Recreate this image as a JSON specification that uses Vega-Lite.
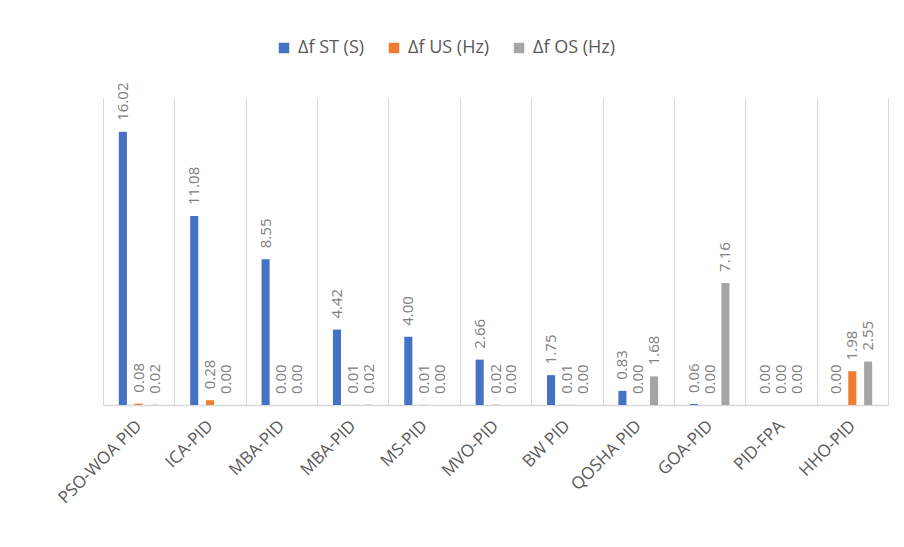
{
  "$schema": "https://vega.github.io/schema/vega-lite/v6.json",
  "width": 785,
  "height": 307,
  "autosize": {"type": "none"},
  "padding": {"left": 103, "top": 98, "right": 16, "bottom": 142},
  "background": "white",
  "config": {
    "view": {"stroke": null},
    "font": "Open Sans"
  },
  "data": {
    "values": [
      {"Method": "PSO-WOA PID", "Series": "Δf ST (S)", "value": 16.02},
      {"Method": "PSO-WOA PID", "Series": "Δf US (Hz)", "value": 0.08},
      {"Method": "PSO-WOA PID", "Series": "Δf OS (Hz)", "value": 0.02},
      {"Method": "ICA-PID", "Series": "Δf ST (S)", "value": 11.08},
      {"Method": "ICA-PID", "Series": "Δf US (Hz)", "value": 0.28},
      {"Method": "ICA-PID", "Series": "Δf OS (Hz)", "value": 0.0},
      {"Method": "MBA-PID", "Series": "Δf ST (S)", "value": 8.55},
      {"Method": "MBA-PID", "Series": "Δf US (Hz)", "value": 0.0},
      {"Method": "MBA-PID", "Series": "Δf OS (Hz)", "value": 0.0},
      {"Method": "MBA-PID#2", "Series": "Δf ST (S)", "value": 4.42},
      {"Method": "MBA-PID#2", "Series": "Δf US (Hz)", "value": 0.01},
      {"Method": "MBA-PID#2", "Series": "Δf OS (Hz)", "value": 0.02},
      {"Method": "MS-PID", "Series": "Δf ST (S)", "value": 4.0},
      {"Method": "MS-PID", "Series": "Δf US (Hz)", "value": 0.01},
      {"Method": "MS-PID", "Series": "Δf OS (Hz)", "value": 0.0},
      {"Method": "MVO-PID", "Series": "Δf ST (S)", "value": 2.66},
      {"Method": "MVO-PID", "Series": "Δf US (Hz)", "value": 0.02},
      {"Method": "MVO-PID", "Series": "Δf OS (Hz)", "value": 0.0},
      {"Method": "BW PID", "Series": "Δf ST (S)", "value": 1.75},
      {"Method": "BW PID", "Series": "Δf US (Hz)", "value": 0.01},
      {"Method": "BW PID", "Series": "Δf OS (Hz)", "value": 0.0},
      {"Method": "QOSHA PID", "Series": "Δf ST (S)", "value": 0.83},
      {"Method": "QOSHA PID", "Series": "Δf US (Hz)", "value": 0.0},
      {"Method": "QOSHA PID", "Series": "Δf OS (Hz)", "value": 1.68},
      {"Method": "GOA-PID", "Series": "Δf ST (S)", "value": 0.06},
      {"Method": "GOA-PID", "Series": "Δf US (Hz)", "value": 0.0},
      {"Method": "GOA-PID", "Series": "Δf OS (Hz)", "value": 7.16},
      {"Method": "PID-FPA", "Series": "Δf ST (S)", "value": 0.0},
      {"Method": "PID-FPA", "Series": "Δf US (Hz)", "value": 0.0},
      {"Method": "PID-FPA", "Series": "Δf OS (Hz)", "value": 0.0},
      {"Method": "HHO-PID", "Series": "Δf ST (S)", "value": 0.0},
      {"Method": "HHO-PID", "Series": "Δf US (Hz)", "value": 1.98},
      {"Method": "HHO-PID", "Series": "Δf OS (Hz)", "value": 2.55}
    ]
  },
  "encoding": {
    "x": {
      "field": "Method",
      "type": "nominal",
      "sort": null,
      "scale": {"paddingInner": 0, "paddingOuter": 0},
      "axis": {
        "title": null,
        "labelExpr": "isValid(datum.value) ? replace(datum.value, '#2', '') : ''",
        "labelAngle": -45,
        "labelAlign": "right",
        "labelBaseline": "middle",
        "labelPadding": 18,
        "labelFontSize": 17,
        "labelColor": "#595959",
        "ticks": false,
        "tickBand": "extent",
        "grid": true,
        "gridColor": "#d9d9d9",
        "gridWidth": 1,
        "domainColor": "#d9d9d9",
        "domainWidth": 1.5
      }
    },
    "xOffset": {
      "field": "Series",
      "type": "nominal",
      "sort": ["Δf ST (S)", "Δf US (Hz)", "Δf OS (Hz)"],
      "scale": {"paddingInner": 0.49, "paddingOuter": 1.225}
    },
    "y": {
      "field": "value",
      "type": "quantitative",
      "scale": {"domain": [0, 18], "nice": false},
      "axis": null
    }
  },
  "layer": [
    {
      "mark": {"type": "bar"},
      "encoding": {
        "color": {
          "field": "Series",
          "type": "nominal",
          "scale": {
            "domain": ["Δf ST (S)", "Δf US (Hz)", "Δf OS (Hz)"],
            "range": ["#4472C4", "#ED7D31", "#A5A5A5"]
          },
          "legend": {
            "title": null,
            "orient": "none",
            "direction": "horizontal",
            "legendX": 172,
            "legendY": -59,
            "symbolType": "square",
            "symbolSize": 110,
            "symbolStrokeWidth": 0,
            "symbolOpacity": 1,
            "labelFontSize": 18,
            "labelColor": "#595959",
            "labelOffset": 5,
            "columnPadding": 20
          }
        }
      }
    },
    {
      "mark": {
        "type": "text",
        "angle": 270,
        "align": "left",
        "baseline": "middle",
        "dx": 11,
        "fontSize": 15,
        "color": "#808080"
      },
      "encoding": {
        "text": {"field": "value", "type": "quantitative", "format": ".2f"}
      }
    }
  ]
}
